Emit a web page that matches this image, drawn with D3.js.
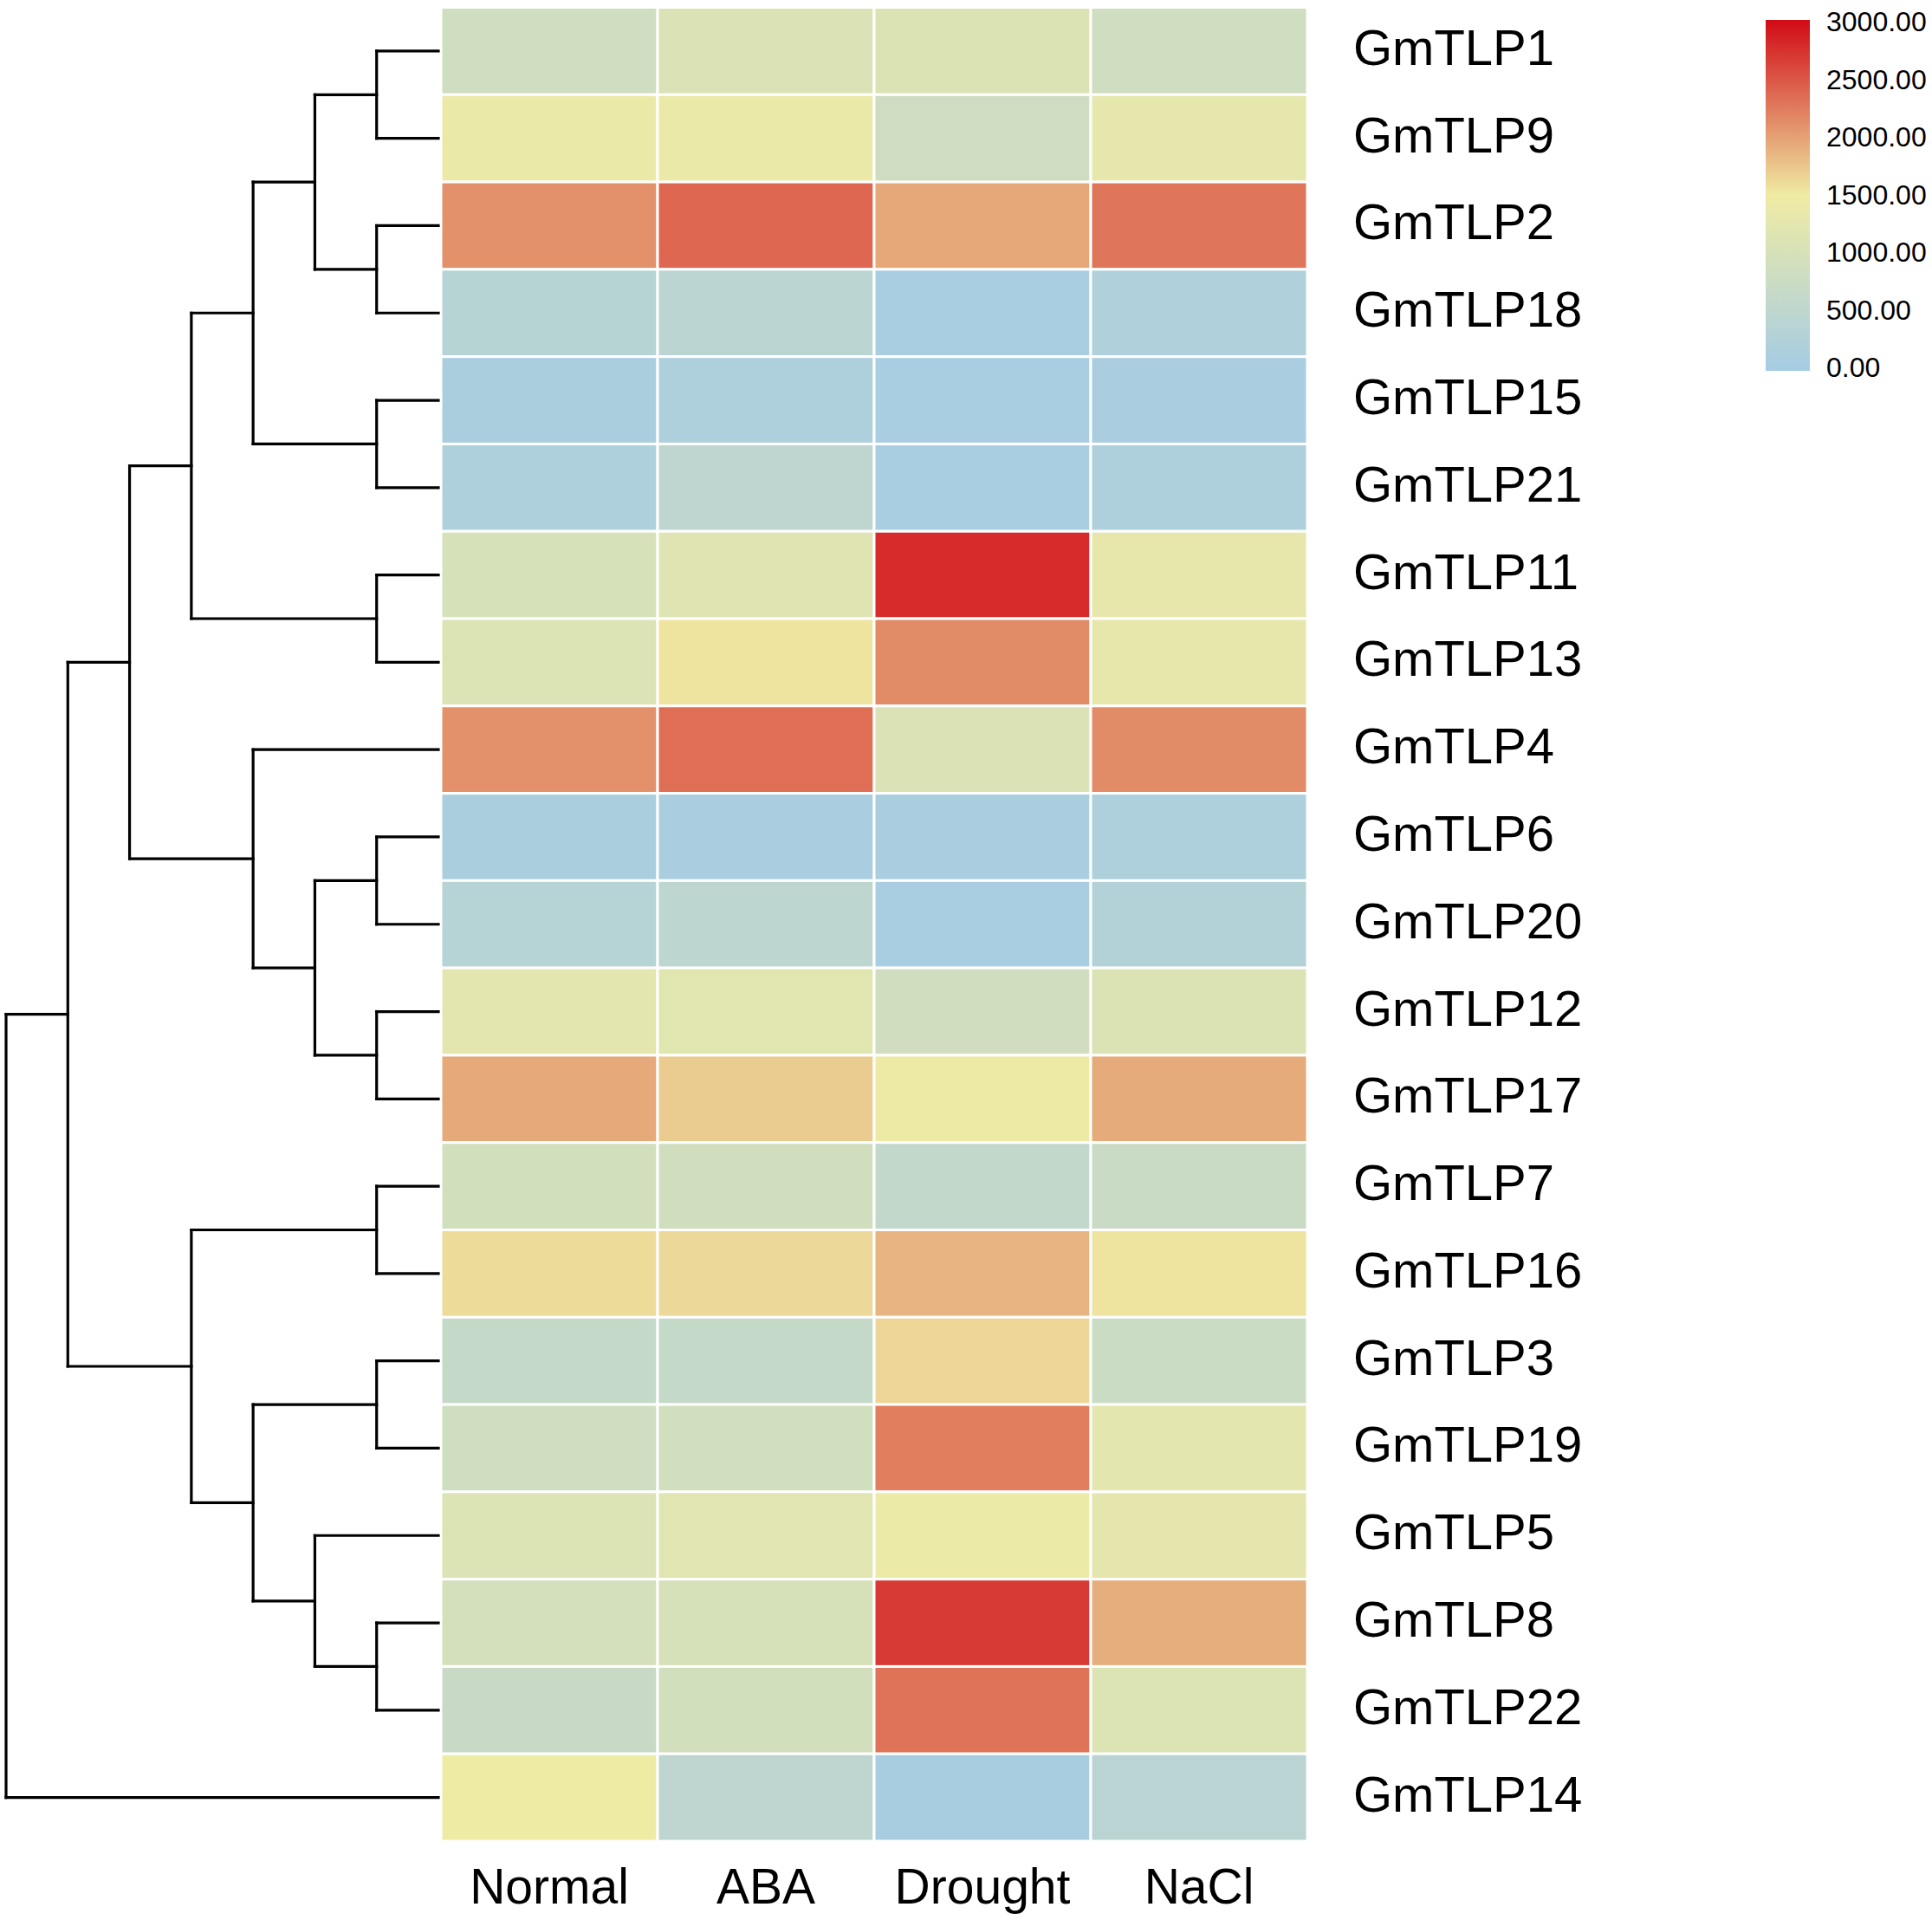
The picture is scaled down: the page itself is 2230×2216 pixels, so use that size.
<!DOCTYPE html>
<html>
<head>
<meta charset="utf-8">
<script src="https://cdn.jsdelivr.net/npm/d3@7"></script>
<style>
  body { margin: 0; background: #fff; }
  text { font-family: "Liberation Sans", Arial, sans-serif; fill: #000; }
</style>
</head>
<body>
<div id="chart"></div>
<script>
// conditions (columns)
const conditions = ['Normal', 'ABA', 'Drought', 'NaCl'];

// genes in dendrogram order (rows)
const genes = ['GmTLP1', 'GmTLP9', 'GmTLP2', 'GmTLP18', 'GmTLP15', 'GmTLP21', 'GmTLP11',
  'GmTLP13', 'GmTLP4', 'GmTLP6', 'GmTLP20', 'GmTLP12', 'GmTLP17', 'GmTLP7', 'GmTLP16',
  'GmTLP3', 'GmTLP19', 'GmTLP5', 'GmTLP8', 'GmTLP22', 'GmTLP14'];

// expression per condition, same order as genes
const normal  = [850, 1420, 2100, 365, 120, 180, 1000, 1120, 2100, 120, 350, 1260, 1940, 910, 1610, 650, 850, 1120, 950, 700, 1480];
const aba     = [1075, 1400, 2380, 420, 180, 500, 1180, 1550, 2330, 110, 480, 1220, 1710, 890, 1630, 650, 900, 1190, 1000, 910, 500];
const drought = [1100, 830, 1950, 80, 80, 80, 2780, 2140, 1070, 110, 80, 870, 1450, 590, 1870, 1650, 2230, 1430, 2680, 2300, 60];
const nacl    = [850, 1300, 2280, 220, 100, 180, 1330, 1330, 2140, 190, 290, 1100, 1930, 730, 1550, 760, 1260, 1270, 1910, 1140, 400];

// clustering tree (nested pairs)
const tree = [
  [
    [
      [
        [[['GmTLP1', 'GmTLP9'], ['GmTLP2', 'GmTLP18']], ['GmTLP15', 'GmTLP21']],
        ['GmTLP11', 'GmTLP13']
      ],
      ['GmTLP4', [['GmTLP6', 'GmTLP20'], ['GmTLP12', 'GmTLP17']]]
    ],
    [['GmTLP7', 'GmTLP16'], [['GmTLP3', 'GmTLP19'], ['GmTLP5', ['GmTLP8', 'GmTLP22']]]]
  ],
  'GmTLP14'
];

const legendTicks = [0, 500, 1000, 1500, 2000, 2500, 3000];

var series = [normal, aba, drought, nacl];
var cells = [];
genes.forEach(function (g, i) {
  conditions.forEach(function (c, j) {
    cells.push({ gene: g, cond: c, value: series[j][i] });
  });
});

var W = 2230, H = 2216;
var svg = d3.select('#chart').append('svg')
  .attr('width', W)
  .attr('height', H);

var x = d3.scaleBand().domain(conditions).range([509, 1509]);
var y = d3.scaleBand().domain(genes).range([8.5, 2125]);

var color = d3.scaleLinear()
  .domain([0, 1500, 3000])
  .range(['#a5cce4', '#efeba4', '#d10a15'])
  .clamp(true);

// heatmap
svg.append('g').selectAll('rect')
  .data(cells)
  .enter().append('rect')
  .attr('x', d => x(d.cond))
  .attr('y', d => y(d.gene))
  .attr('width', x.bandwidth())
  .attr('height', y.bandwidth())
  .attr('fill', d => color(d.value))
  .attr('stroke', '#fff')
  .attr('stroke-width', 3);

// row labels
svg.append('g').selectAll('text')
  .data(genes)
  .enter().append('text')
  .attr('x', 1562)
  .attr('y', d => y(d) + y.bandwidth() / 2 + 16)
  .attr('font-size', 58)
  .text(d => d);

// column labels
svg.append('g').selectAll('text')
  .data(conditions)
  .enter().append('text')
  .attr('x', d => x(d) + x.bandwidth() / 2)
  .attr('y', 2197)
  .attr('text-anchor', 'middle')
  .attr('font-size', 57)
  .text(d => d);

// dendrogram, x from node height
var root = d3.hierarchy(tree, d => Array.isArray(d) ? d : null);
var hx = d3.scaleLinear().domain([root.height, 0]).range([7, 506]);
root.eachAfter(function (n) {
  n.px = hx(n.height);
  if (n.children) n.py = d3.mean(n.children, c => c.py);
  else n.py = y(n.data) + y.bandwidth() / 2;
});

var dg = svg.append('g')
  .attr('stroke', '#000')
  .attr('stroke-width', 3.2)
  .attr('fill', 'none')
  .attr('stroke-linecap', 'square');

root.descendants().filter(n => n.children).forEach(function (n) {
  var ys = n.children.map(c => c.py);
  dg.append('line')
    .attr('x1', n.px).attr('x2', n.px)
    .attr('y1', d3.min(ys)).attr('y2', d3.max(ys));
  n.children.forEach(function (c) {
    dg.append('line')
      .attr('x1', n.px).attr('x2', c.px)
      .attr('y1', c.py).attr('y2', c.py);
  });
});

// colour legend
var ly = d3.scaleLinear().domain([0, 3000]).range([428, 23]);
var lbl = d3.scaleLinear().domain([0, 3000]).range([435, 36]);

var grad = svg.append('defs').append('linearGradient')
  .attr('id', 'lg')
  .attr('x1', 0).attr('y1', 1).attr('x2', 0).attr('y2', 0);
d3.range(0, 3001, 250).forEach(function (v) {
  grad.append('stop')
    .attr('offset', v / 3000)
    .attr('stop-color', color(v));
});

svg.append('rect')
  .attr('x', 2038)
  .attr('y', ly(3000))
  .attr('width', 51)
  .attr('height', ly(0) - ly(3000))
  .attr('fill', 'url(#lg)');

svg.append('g').selectAll('text')
  .data(legendTicks)
  .enter().append('text')
  .attr('x', 2108)
  .attr('y', d => lbl(d))
  .attr('font-size', 32)
  .text(d => d3.format('.2f')(d));
</script>
</body>
</html>
